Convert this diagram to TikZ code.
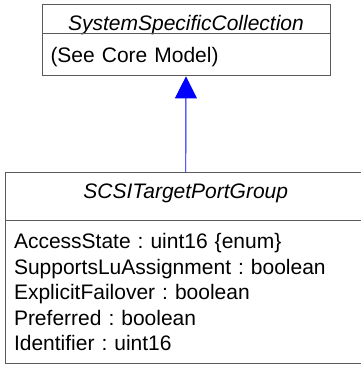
\documentclass[tikz,border=0pt]{standalone}
\usepackage{fontspec}
\setmainfont{Liberation Sans}
\frenchspacing
\usetikzlibrary{arrows.meta, positioning}
\definecolor{umlGray}{HTML}{5A5A5A}
\definecolor{umlBlue}{HTML}{0000FF}

\begin{document}
\begin{tikzpicture}[
x=1pt, y=-1pt,
node distance=0pt,
classname/.style={draw=umlGray, line width=0.9pt, inner sep=0pt, align=center, anchor=base, font=\fontsize{21}{25.5}\selectfont\itshape},
classattrs/.style={draw=umlGray, line width=0.9pt, inner xsep=8.5pt, inner ysep=0pt, align=left, font=\fontsize{21}{25.5}\selectfont},
arrow/.style={-{Triangle[length=22pt, width=22pt]}, line width=0.9pt}
]
\useasboundingbox (0,0) rectangle (361,365);

\node[classname, minimum width=288pt, text height=26pt, text depth=3pt] (sscName) at (186,30) {SystemSpecificCollection};
\node[classattrs, text width=271pt, text height=29pt, text depth=13pt, below=of sscName] (sscAttrs) {(See Core Model)};

\node[classname, minimum width=360.5pt, text height=25.5pt, text depth=22pt] (stpgName) at (185.75,198) {SCSITargetPortGroup};
\node[classattrs, text width=343.5pt, minimum height=143pt, below=of stpgName] (stpgAttrs) {AccessState : uint16 \{enum\}\\SupportsLuAssignment : boolean\\ExplicitFailover : boolean\\Preferred : boolean\\Identifier : uint16};

\draw[arrow, umlBlue] (stpgName.north) -- (sscAttrs.south);
\end{tikzpicture}
\end{document}
